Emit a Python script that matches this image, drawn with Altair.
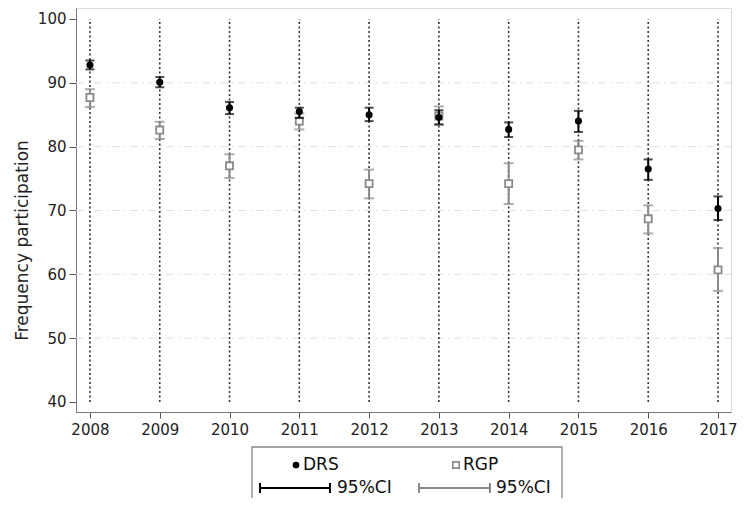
import altair as alt
import pandas as pd

years = [2008, 2009, 2010, 2011, 2012, 2013, 2014, 2015, 2016, 2017]
drs = [92.8, 90.1, 86.1, 85.5, 85.0, 84.6, 82.7, 84.0, 76.5, 70.3]
drs_lo = [92.1, 89.3, 85.1, 84.5, 84.0, 83.5, 81.5, 82.3, 74.8, 68.5]
drs_hi = [93.5, 90.9, 87.0, 86.1, 86.1, 85.7, 83.8, 85.6, 78.0, 72.2]
rgp = [87.7, 82.6, 77.0, 84.0, 74.2, 84.8, 74.2, 79.5, 68.7, 60.7]
rgp_lo = [86.2, 81.2, 75.1, 82.7, 71.9, 83.4, 71.0, 78.0, 66.4, 57.4]
rgp_hi = [89.0, 83.9, 78.8, 85.2, 76.4, 86.3, 77.4, 80.9, 70.8, 64.1]
y_ticks = [40, 50, 60, 70, 80, 90, 100]
grid_vals = [50, 60, 70, 80, 90]

FONT = "DejaVu Sans"
BLACK = "#000000"
GRAY = "#8a8a8a"
W, H = 655, 404

df = pd.DataFrame({"year": years, "drs": drs, "drs_lo": drs_lo, "drs_hi": drs_hi,
                   "rgp": rgp, "rgp_lo": rgp_lo, "rgp_hi": rgp_hi,
                   "vlo": [40] * len(years), "vhi": [100] * len(years)})
gdf = pd.DataFrame({"g": grid_vals})

xs = alt.Scale(domain=[2007.8, 2017.186], nice=False, zero=False)
ys = alt.Scale(domain=[38.43, 101.72], nice=False, zero=False)

xaxis = alt.Axis(values=years, format="d", title=None, grid=False, labelFontSize=15,
                 labelFont=FONT, labelColor="#222", tickSize=6, tickColor="#555",
                 domainColor="#777", labelPadding=4)
yaxis = alt.Axis(values=y_ticks, title="Frequency participation", grid=False,
                 labelFontSize=15, labelFont=FONT, labelColor="#222", tickSize=7,
                 tickColor="#555", domainColor="#777", labelPadding=3,
                 titleFont=FONT, titleFontSize=17, titleFontWeight="normal",
                 titleColor="#222", titleAngle=270, titleAlign="center",
                 titleBaseline="middle", titleX=-54, titleY=232)

base = alt.Chart(df)

grid = alt.Chart(gdf).mark_rule(color="#e2e2e2", strokeDash=[8, 4, 2, 4], strokeWidth=1).encode(
    y=alt.Y("g:Q", scale=ys, axis=yaxis), x=alt.value(0), x2=alt.value(W))

vlines = base.mark_rule(color="#333", strokeDash=[2, 2.5], strokeWidth=1.6).encode(
    x=alt.X("year:Q", scale=xs, axis=xaxis), y=alt.Y("vlo:Q", scale=ys), y2="vhi:Q")

rgp_bar = base.mark_rule(color=GRAY, strokeWidth=2).encode(
    x=alt.X("year:Q", scale=xs), y=alt.Y("rgp_lo:Q", scale=ys), y2="rgp_hi:Q")
rgp_cap_lo = base.mark_tick(color=GRAY, orient="horizontal", size=10, thickness=2).encode(
    x=alt.X("year:Q", scale=xs), y=alt.Y("rgp_lo:Q", scale=ys))
rgp_cap_hi = base.mark_tick(color=GRAY, orient="horizontal", size=10, thickness=2).encode(
    x=alt.X("year:Q", scale=xs), y=alt.Y("rgp_hi:Q", scale=ys))
rgp_pt = base.mark_point(shape="square", size=50, filled=True, fill="white",
                         stroke=GRAY, strokeWidth=1.8, opacity=1).encode(
    x=alt.X("year:Q", scale=xs), y=alt.Y("rgp:Q", scale=ys))

drs_bar = base.mark_rule(color=BLACK, strokeWidth=2).encode(
    x=alt.X("year:Q", scale=xs), y=alt.Y("drs_lo:Q", scale=ys), y2="drs_hi:Q")
drs_cap_lo = base.mark_tick(color=BLACK, orient="horizontal", size=9, thickness=2).encode(
    x=alt.X("year:Q", scale=xs), y=alt.Y("drs_lo:Q", scale=ys))
drs_cap_hi = base.mark_tick(color=BLACK, orient="horizontal", size=9, thickness=2).encode(
    x=alt.X("year:Q", scale=xs), y=alt.Y("drs_hi:Q", scale=ys))
drs_pt = base.mark_circle(size=50, color=BLACK, opacity=1).encode(
    x=alt.X("year:Q", scale=xs), y=alt.Y("drs:Q", scale=ys))

one = pd.DataFrame({"a": [0]})
L = alt.Chart(one)
leg_box = L.mark_rect(fill="white", fillOpacity=0, stroke="#888", strokeWidth=1.3).encode(
    x=alt.value(176), x2=alt.value(486), y=alt.value(439), y2=alt.value(530))
leg_dot = L.mark_circle(size=45, color=BLACK, opacity=1).encode(x=alt.value(220), y=alt.value(457))
leg_drs = L.mark_text(text="DRS", align="left", baseline="middle", font=FONT, fontSize=17,
                      color="#111").encode(x=alt.value(227), y=alt.value(457))
leg_sq = L.mark_point(shape="square", size=40, filled=True, fill="white", stroke=GRAY,
                      strokeWidth=1.6, opacity=1).encode(x=alt.value(380), y=alt.value(457))
leg_rgp = L.mark_text(text="RGP", align="left", baseline="middle", font=FONT, fontSize=17,
                      color="#111").encode(x=alt.value(387), y=alt.value(457))

def ci_item(x0, x1, color, tx):
    line = L.mark_rule(color=color, strokeWidth=2).encode(
        x=alt.value(x0), x2=alt.value(x1), y=alt.value(480))
    c1 = L.mark_rule(color=color, strokeWidth=2).encode(
        x=alt.value(x0), y=alt.value(475), y2=alt.value(485))
    c2 = L.mark_rule(color=color, strokeWidth=2).encode(
        x=alt.value(x1), y=alt.value(475), y2=alt.value(485))
    t = L.mark_text(text="95%CI", align="left", baseline="middle", font=FONT, fontSize=17,
                    color="#111").encode(x=alt.value(tx), y=alt.value(480))
    return [line, c1, c2, t]

legend_layers = [leg_box, leg_dot, leg_drs, leg_sq, leg_rgp] + \
    ci_item(184, 254, BLACK, 261) + ci_item(343, 414, GRAY, 420)

chart = alt.layer(
    grid, vlines, rgp_bar, rgp_cap_lo, rgp_cap_hi, rgp_pt,
    drs_bar, drs_cap_lo, drs_cap_hi, drs_pt, *legend_layers
).properties(
    width=W, height=H,
    autosize=alt.AutoSizeParams(type="none"),
    padding={"left": 68, "top": 0, "right": 729 - 68 - W, "bottom": 86},
).configure_view(stroke=None).configure(background="white")

chart.save("out.html", embed_options={"renderer": "svg", "actions": False})
